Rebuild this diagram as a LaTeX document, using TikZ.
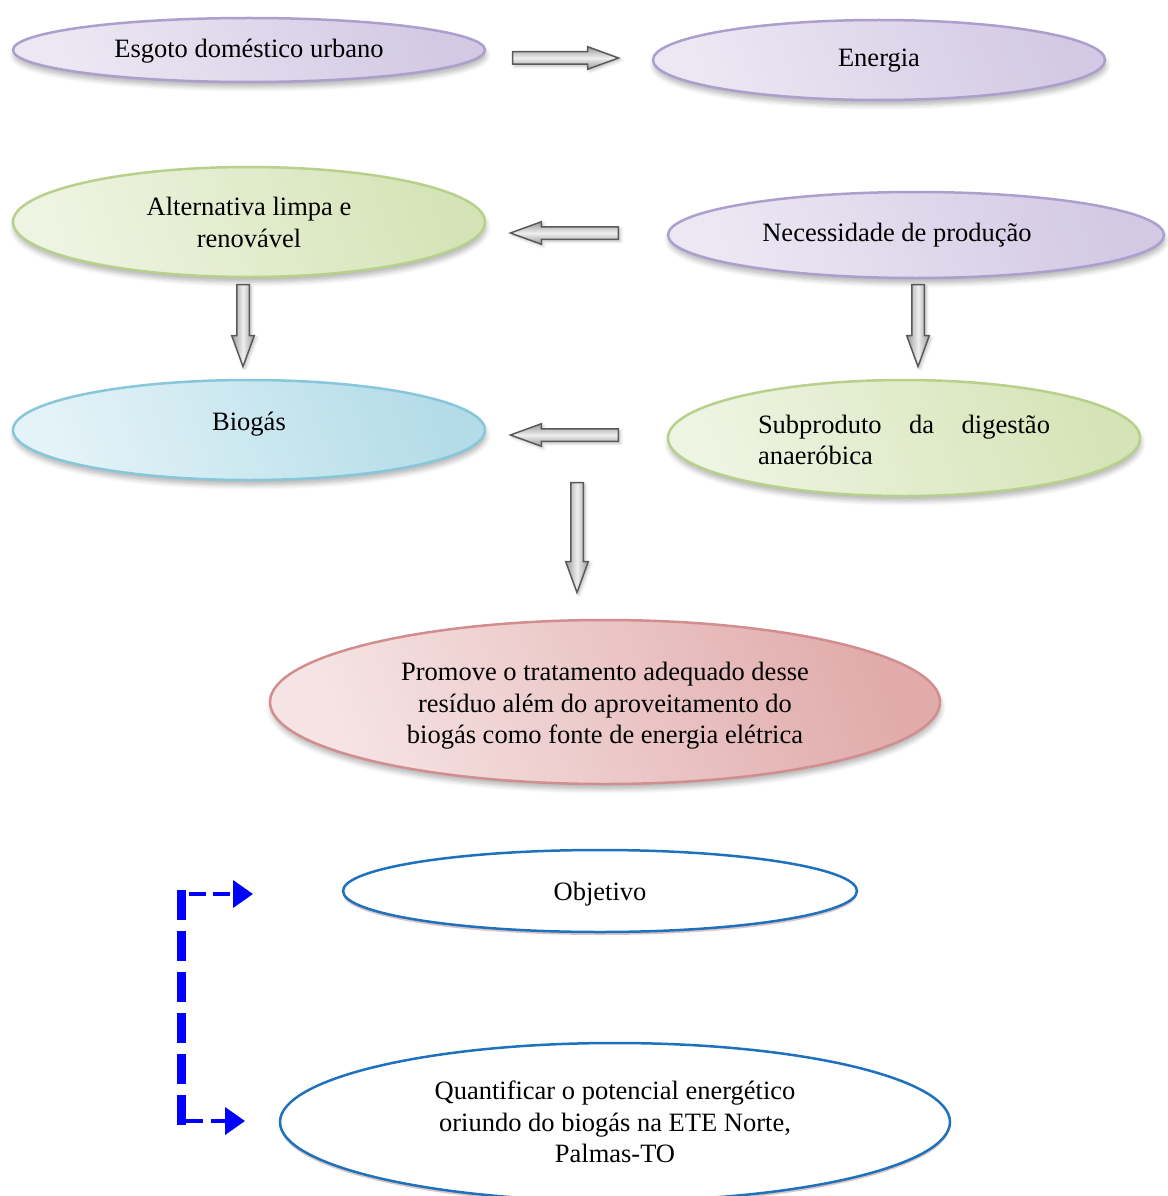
\documentclass[tikz,border=0pt]{standalone}
\usepackage{fontspec}
\setmainfont{Liberation Serif}
\usetikzlibrary{shapes.geometric,shapes.arrows,shadows,shadows.blur,arrows.meta}

\definecolor{lavLight}{HTML}{ECE8F3}
\definecolor{lavDark}{HTML}{D3C9E4}
\definecolor{lavLine}{HTML}{AC9FCD}
\definecolor{grnLight}{HTML}{EEF4E2}
\definecolor{grnDark}{HTML}{D5E4B7}
\definecolor{grnLine}{HTML}{B7D08B}
\definecolor{bluLight}{HTML}{E4F3F7}
\definecolor{bluDark}{HTML}{B3DCE8}
\definecolor{bluLine}{HTML}{88C6DB}
\definecolor{redLight}{HTML}{F6E4E4}
\definecolor{redDark}{HTML}{E1ABAB}
\definecolor{redLine}{HTML}{D28E8E}
\definecolor{objLine}{HTML}{1E72BD}
\definecolor{objShade}{HTML}{8A3A3A}
\definecolor{arrLine}{HTML}{595959}
\definecolor{arrLight}{HTML}{EEEEEE}
\definecolor{arrDark}{HTML}{9A9A9A}

% text block lowered a little inside its ellipse, box size kept
\newcommand\shiftedlines[2]{\raisebox{#1}[\height][\depth]{\begin{tabular}{@{}c@{}}#2\end{tabular}}}

\tikzset{
  bubble/.style={ellipse, inner sep=0pt, line width=2.5pt, align=center,
    font=\fontsize{26.5}{31.5}\selectfont,
    blur shadow={shadow xshift=1pt, shadow yshift=-5pt, shadow blur radius=5pt,
      shadow blur steps=6, shadow opacity=30}},
  lavender/.style={bubble, draw=lavLine, left color=lavLight, right color=lavDark, shading angle=110},
  leafgreen/.style={bubble, draw=grnLine, left color=grnLight, right color=grnDark, shading angle=110},
  skyblue/.style={bubble, draw=bluLine, left color=bluLight, right color=bluDark, shading angle=110},
  rosered/.style={bubble, draw=redLine, left color=redLight, right color=redDark, shading angle=110},
  goalbox/.style={ellipse, inner sep=0pt, line width=2.5pt, align=center, draw=objLine, fill=white,
    font=\fontsize{26.5}{31.5}\selectfont,
    drop shadow={shadow xshift=0pt, shadow yshift=-3pt, opacity=0.3, fill=objShade}},
  blockarrow/.style={single arrow, draw=arrLine, line width=1.5pt, inner sep=5.5pt,
    single arrow head extend=5pt, single arrow tip angle=40,
    blur shadow={shadow xshift=2pt, shadow yshift=-2pt, shadow blur radius=3pt,
      shadow blur steps=4, shadow opacity=25}},
  harrow/.style={blockarrow, top color=arrDark, bottom color=arrDark, middle color=arrLight},
  varrow/.style={blockarrow, left color=arrDark, right color=arrDark, middle color=arrLight},
  bluelink/.style={draw=blue, line width=4pt, dash pattern=on 17pt off 7pt,
    -{Triangle[length=20pt,width=27pt]}},
}

\begin{document}
\begin{tikzpicture}[x=1pt, y=-1pt]
\useasboundingbox (0,0) rectangle (1167,1196);

% ellipses of the flow
\node[lavender, minimum width=472pt, minimum height=64pt] (esgoto) at (249,50)
  {\raisebox{-1pt}[\height][\depth]{Esgoto doméstico urbano}};
\node[lavender, minimum width=452pt, minimum height=80pt] (energia) at (879,60)
  {\raisebox{-1pt}[\height][\depth]{Energia}};
\node[leafgreen, minimum width=472pt, minimum height=110pt] (alternativa) at (249,222)
  {\shiftedlines{-3pt}{Alternativa limpa e\\renovável}};
\node[lavender, minimum width=496pt, minimum height=86pt] (necessidade) at (916,235)
  {\raisebox{0pt}[\height][\depth]{Necessidade de produção}\kern38pt};
\node[skyblue, minimum width=472pt, minimum height=100pt] (biogas) at (249,430)
  {\raisebox{6pt}[\height][\depth]{Biogás}};
\node[leafgreen, minimum width=472pt, minimum height=116pt, align=left] (subproduto) at (904,438)
  {\raisebox{-2pt}[\height][\depth]{\parbox{292pt}{\fontsize{26.5}{31.5}\selectfont Subproduto\hfill da\hfill digestão\\ anaeróbica}}};
\node[rosered, minimum width=670pt, minimum height=164pt] (promove) at (605,702)
  {\shiftedlines{-4pt}{Promove o tratamento adequado desse\\resíduo além do aproveitamento do\\biogás como fonte de energia elétrica}};

% objective part
\node[goalbox, minimum width=514pt, minimum height=82pt] (objetivo) at (600,891)
  {\raisebox{-3pt}[\height][\depth]{Objetivo}};
\node[goalbox, minimum width=670pt, minimum height=158pt] (quantificar) at (615,1122)
  {\shiftedlines{-3pt}{Quantificar o potencial energético\\oriundo do biogás na ETE Norte,\\Palmas-TO}};

% block arrows between the ellipses
\node[harrow, minimum height=106pt] (a1) at (557,58) {};
\node[harrow, minimum height=108pt, shape border rotate=180] (a2) at (573,233) {};
\node[harrow, minimum height=108pt, shape border rotate=180] (a3) at (573,435) {};
\node[varrow, minimum height=82pt, shape border rotate=270] (a4) at (243,317) {};
\node[varrow, minimum height=82pt, shape border rotate=270] (a5) at (918,317) {};
\node[varrow, minimum height=110pt, shape border rotate=270] (a6) at (577,529) {};

% dashed bracket pointing at the objective ellipses
\coordinate (bracketTop) at (181,890);
\coordinate (bracketBot) at (181,1125);
\coordinate (topStart) at (189,894);
\coordinate (botStart) at (181,1121);
\coordinate (objIn) at (253,894);
\coordinate (quaIn) at (245,1121);
\draw[blue, line width=9pt, dash pattern=on 30pt off 11pt] (bracketTop) -- (bracketBot);
\draw[bluelink] (topStart) -- (objIn);
\draw[bluelink, dash pattern=on 22pt off 8pt] (botStart) -- (quaIn);
\end{tikzpicture}
\end{document}
